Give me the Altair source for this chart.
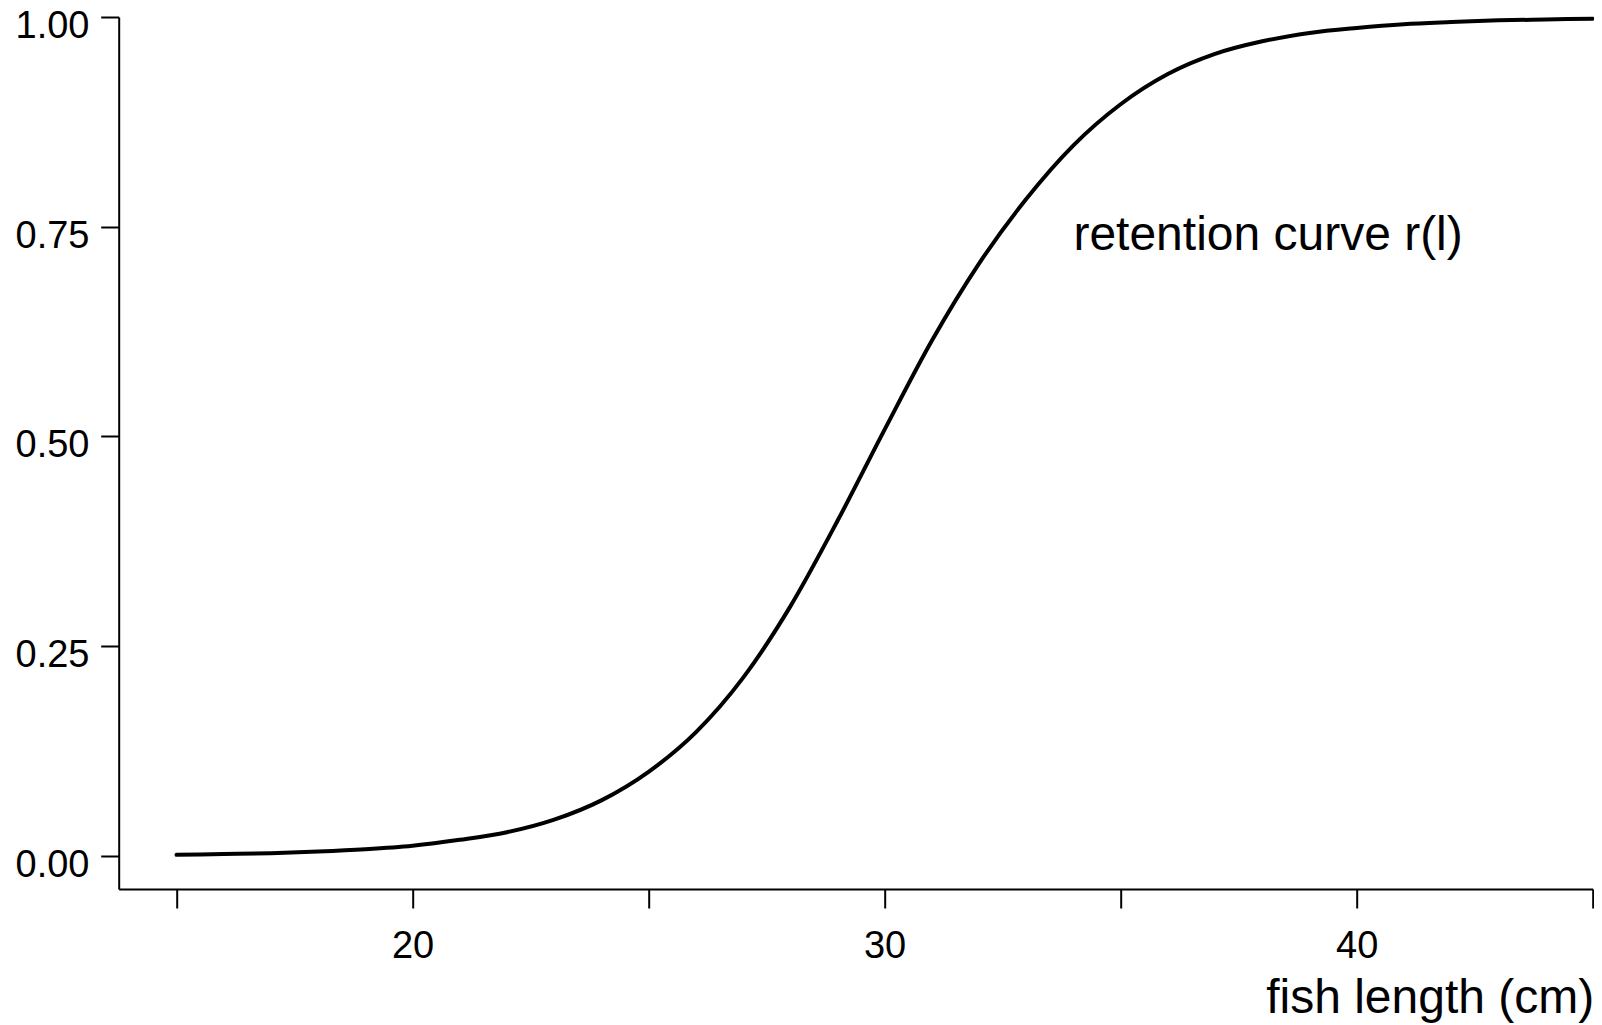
import altair as alt
import pandas as pd

# values
length_cm = [15, 16, 17, 18, 19, 20, 21, 22, 23, 24, 25, 26, 27, 28, 29, 30,
             31, 32, 33, 34, 35, 36, 37, 38, 39, 40, 41, 42, 43, 44, 45]
retention = [0.001, 0.002, 0.003, 0.005, 0.0078, 0.012, 0.019, 0.028, 0.043, 0.066,
             0.100, 0.147, 0.212, 0.297, 0.399, 0.508, 0.614, 0.706, 0.783, 0.847,
             0.896, 0.932, 0.956, 0.971, 0.981, 0.987, 0.9915, 0.994, 0.996, 0.997, 0.998]

x_tick_values = [15, 20, 25, 30, 35, 40, 45]
y_tick_values = [0.0, 0.25, 0.5, 0.75, 1.0]

annot_text = ["retention curve r(l)"]
annot_x = [34.0]
annot_y = [0.722]

x_title = "fish length (cm)"

df = pd.DataFrame({"length": length_cm, "r": retention})
df_annot = pd.DataFrame({"x": annot_x, "y": annot_y, "t": annot_text})

FONT = "Liberation Sans"
PLOT_W = 1474
PLOT_H = 872
x_scale = alt.Scale(domain=[13.775, 45], nice=False, zero=False)
y_scale = alt.Scale(domain=[-0.0397, 1.0], nice=False, zero=False)

line = alt.Chart(df).mark_line(
    color="black", strokeWidth=4, strokeCap="round", interpolate="monotone"
).encode(
    x=alt.X(
        "length:Q",
        scale=x_scale,
        axis=alt.Axis(
            values=x_tick_values,
            labelExpr="datum.value % 10 == 0 ? datum.label : ''",
            title=x_title,
            tickSize=19,
            labelPadding=50,
            labelBaseline="alphabetic",
            labelFontSize=38,
            labelOverlap=False,
            labelFlush=False,
            labelBound=False,
            titleFontSize=48,
            titleFontWeight="normal",
            titleAnchor="end",
            titleAlign="right",
            titleBaseline="alphabetic",
            titleX=PLOT_W + 1,
            titleY=124,
        ),
    ),
    y=alt.Y(
        "r:Q",
        scale=y_scale,
        axis=alt.Axis(
            values=y_tick_values,
            format=".2f",
            title="",
            tickSize=18,
            labelPadding=11.7,
            labelBaseline="alphabetic",
            labelOffset=20.5,
            labelFontSize=38,
            labelOverlap=False,
            labelFlush=False,
            labelBound=False,
        ),
    ),
)

text = alt.Chart(df_annot).mark_text(
    align="left", baseline="alphabetic", fontSize=48, font=FONT, color="black"
).encode(
    x=alt.X("x:Q", scale=x_scale),
    y=alt.Y("y:Q", scale=y_scale),
    text="t:N",
)

chart = alt.layer(line, text).properties(
    width=PLOT_W,
    height=PLOT_H,
    autosize=alt.AutoSizeParams(type="none"),
    padding={"left": 110.7, "top": 9, "right": 1, "bottom": 136},
).configure_view(
    strokeWidth=0
).configure_axis(
    grid=False,
    domainColor="black",
    domainWidth=2,
    tickColor="black",
    tickWidth=2,
    labelColor="black",
    titleColor="black",
    labelFont=FONT,
    titleFont=FONT,
)

chart.save("out.html", embed_options={"renderer": "svg", "actions": False})
